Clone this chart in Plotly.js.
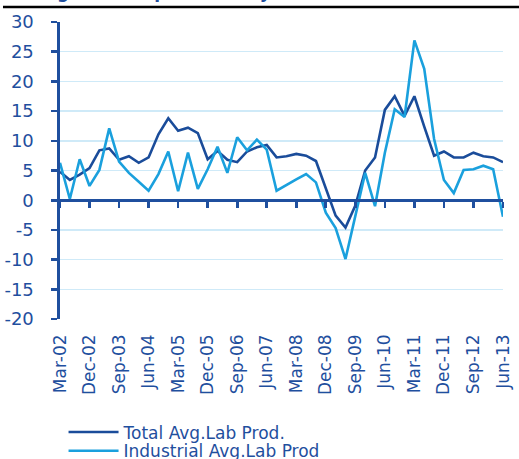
<!DOCTYPE html>
<html>
<head>
<meta charset="utf-8">
<script src="https://cdn.plot.ly/plotly-3.0.1.min.js"></script>
<style>html,body{margin:0;padding:0;background:#fff;overflow:hidden}#chart{width:519px;height:459px}</style>
</head>
<body>
<div id="chart"></div>
<script>
const quarters = [
  "Mar-02","Jun-02","Sep-02","Dec-02","Mar-03","Jun-03","Sep-03","Dec-03",
  "Mar-04","Jun-04","Sep-04","Dec-04","Mar-05","Jun-05","Sep-05","Dec-05",
  "Mar-06","Jun-06","Sep-06","Dec-06","Mar-07","Jun-07","Sep-07","Dec-07",
  "Mar-08","Jun-08","Sep-08","Dec-08","Mar-09","Jun-09","Sep-09","Dec-09",
  "Mar-10","Jun-10","Sep-10","Dec-10","Mar-11","Jun-11","Sep-11","Dec-11",
  "Mar-12","Jun-12","Sep-12","Dec-12","Mar-13","Jun-13"
];
const tickLabels = ["Mar-02","Dec-02","Sep-03","Jun-04","Mar-05","Dec-05","Sep-06","Jun-07",
  "Mar-08","Dec-08","Sep-09","Jun-10","Mar-11","Dec-11","Sep-12","Jun-13"];
const yTickVals = [-20, -15, -10, -5, 0, 5, 10, 15, 20, 25, 30];
const yTickText = ["-20", "-15", "-10", "-5", "0", "5", "10", "15", "20", "25", "30"];
const totalProd = [
  4.8, 3.4, 4.3, 5.4, 8.4, 8.7, 6.8, 7.4, 6.3, 7.2, 11.1, 13.8, 11.7, 12.2, 11.3, 6.9,
  8.3, 6.8, 6.4, 8.2, 8.9, 9.3, 7.2, 7.4, 7.8, 7.5, 6.6, 1.9, -2.6, -4.6, -0.9, 5.0,
  7.2, 15.2, 17.5, 14.2, 17.5, 12.4, 7.5, 8.2, 7.2, 7.2, 8.0, 7.4, 7.2, 6.4
];
const industrialProd = [
  6.3, 0.2, 6.9, 2.4, 5.1, 12.1, 6.5, 4.6, 3.1, 1.6, 4.4, 8.2, 1.5, 8.0, 1.9, 5.2,
  9.0, 4.6, 10.6, 8.4, 10.2, 8.5, 1.6, 2.6, 3.5, 4.4, 3.0, -2.1, -4.7, -9.9, -2.7, 4.6,
  -1.0, 8.0, 15.3, 14.0, 26.9, 22.1, 10.3, 3.4, 1.2, 5.1, 5.2, 5.8, 5.2, -2.8
];
const seriesNames = ["Total Avg.Lab Prod.", "Industrial Avg.Lab Prod"];
const titleText = "Average labour productivity (% YoY)";

const DARK = "#1a4c9a";
const LIGHT = "#1aa0dd";
const AXIS = "#1f4f9e";
const GRID = "#cfeaf8";
const FONT = "DejaVu Sans, sans-serif";

const traces = [
  {x: quarters, y: totalProd, name: seriesNames[0], type: "scatter", mode: "lines",
   line: {color: DARK, width: 2.6}, xaxis: "x", yaxis: "y", legend: "legend"},
  {x: quarters, y: industrialProd, name: seriesNames[1], type: "scatter", mode: "lines",
   line: {color: LIGHT, width: 2.6}, xaxis: "x2", yaxis: "y", legend: "legend2"}
];

const layout = {
  width: 519, height: 459,
  margin: {l: 60, r: 16, t: 22, b: 140, pad: 0, autoexpand: false},
  paper_bgcolor: "#fff", plot_bgcolor: "#fff",
  font: {family: FONT, color: AXIS, size: 17},
  showlegend: true,
  xaxis: {
    type: "category", categoryorder: "array", categoryarray: quarters,
    range: [0, quarters.length - 1], showgrid: false, zeroline: false, showline: false,
    ticks: "", tickmode: "array", tickvals: tickLabels, ticktext: tickLabels,
    tickangle: -90, tickfont: {size: 17, color: AXIS}, ticklabelstandoff: 11,
    automargin: false, fixedrange: true
  },
  xaxis2: {
    type: "category", categoryorder: "array", categoryarray: quarters,
    overlaying: "x", anchor: "free", position: 0.4,
    range: [0, quarters.length - 1], showgrid: false, zeroline: false,
    showline: true, linecolor: AXIS, linewidth: 2.6,
    ticks: "outside", ticklen: 6, tickwidth: 2.6, tickcolor: AXIS,
    tickmode: "array", tickvals: tickLabels, showticklabels: false,
    automargin: false, fixedrange: true
  },
  yaxis: {
    range: [-20, 30], tickmode: "array", tickvals: yTickVals, ticktext: yTickText,
    showgrid: true, gridcolor: GRID, gridwidth: 1.5,
    zeroline: false, showline: true, linecolor: AXIS, linewidth: 2.6,
    ticks: "outside", ticklen: 6, tickwidth: 2.6, tickcolor: AXIS,
    tickfont: {size: 18, color: AXIS}, ticklabelstandoff: 14,
    automargin: false, fixedrange: true
  },
  legend: {
    x: 0.008, xanchor: "left", y: -0.382, yanchor: "middle",
    bgcolor: "rgba(0,0,0,0)", borderwidth: 0, itemwidth: 50,
    font: {size: 17, color: AXIS, family: FONT}, tracegroupgap: 0
  },
  legend2: {
    x: 0.008, xanchor: "left", y: -0.445, yanchor: "middle",
    bgcolor: "rgba(0,0,0,0)", borderwidth: 0, itemwidth: 50,
    font: {size: 17, color: AXIS, family: FONT}, tracegroupgap: 0
  },
  shapes: [
    {type: "line", xref: "paper", yref: "paper", x0: -0.1287, x1: 1.04, y0: 1.0505, y1: 1.0505,
     line: {color: "#000", width: 2.5}}
  ],
  annotations: [
    {text: "<b>" + titleText + "</b>", xref: "paper", yref: "paper", x: -0.135, y: 1.0605,
     xanchor: "left", yanchor: "bottom", showarrow: false,
     font: {size: 17, color: AXIS, family: FONT}}
  ]
};

Plotly.newPlot("chart", traces, layout, {displayModeBar: false, staticPlot: true});
</script>
</body>
</html>
